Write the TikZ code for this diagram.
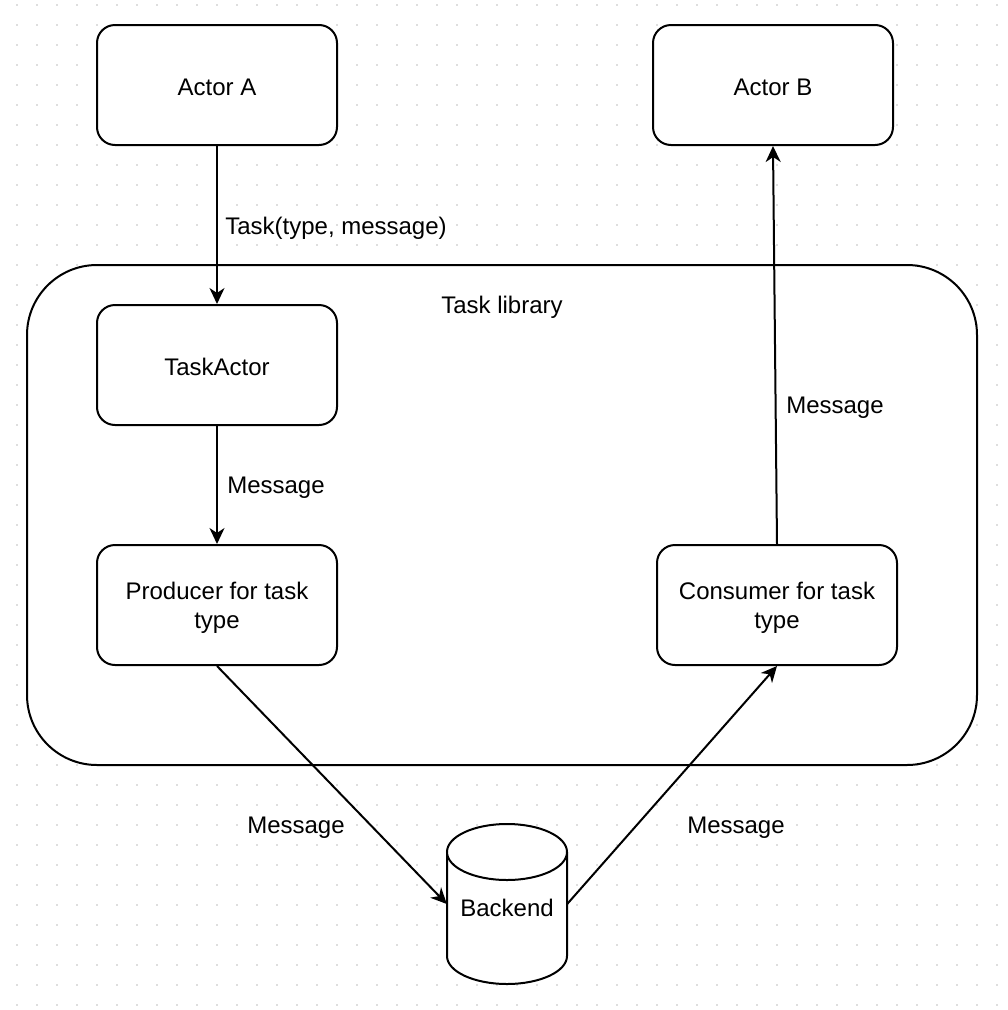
\documentclass[tikz,border=0pt]{standalone}
\usepackage{fontspec}
\setmainfont{Liberation Sans}
\usetikzlibrary{arrows.meta}
\begin{document}
\begin{tikzpicture}[x=1pt,y=-1pt,
  every node/.style={font=\fontsize{24}{29}\selectfont, align=center, inner sep=0pt},
  box/.style={draw=black, line width=2pt, fill=white, rounded corners=18pt,
    minimum width=240pt, minimum height=120pt},
  lbl/.style={fill=none},
  conn/.style={draw=black, line width=2pt, -{Stealth[length=16pt,width=15pt,inset=5pt]}},
  gridc/.style={fill=black!13}]
\useasboundingbox (0,0) rectangle (1008,1010);
\fill[white] (0,0) rectangle (1008,1010);
% grid dots
\foreach \i in {0,...,49} {
  \foreach \j in {0,...,50} {
    \fill[gridc] ({17+20*\i-0.8},{5+20*\j-0.8}) rectangle ++(1.6,1.6);
  }
}
% container
\node[draw=black, line width=2pt, fill=white, rounded corners=70pt,
  minimum width=950pt, minimum height=500pt] (lib) at (502,515) {};
\node[lbl] (libl) at (502,307) {Task library};
% boxes
\node[box] (aa) at (217,85) {};
\node (aat) at (217,87) {Actor A};
\node[box] (ab) at (773,85) {};
\node (abt) at (773,87) {Actor B};
\node[box] (ta) at (217,365) {};
\node (tat) at (217,367) {TaskActor};
\node[box] (prod) at (217,605) {};
\node (prodt) at (217,608) {Producer for task\\type};
\node[box] (cons) at (777,605) {};
\node (const) at (777,608) {Consumer for task\\type};
% backend cylinder
\node[minimum width=120pt, minimum height=160pt] (be) at (507,904) {};
\draw[line width=2pt, fill=white] (447,852) -- (447,956)
  arc[start angle=180, end angle=360, x radius=60pt, y radius=28pt] -- (567,852);
\draw[line width=2pt, fill=white] (507,852) ellipse [x radius=60pt, y radius=28pt];
\node (bel) at (507,908) {Backend};
% connectors
\draw[conn] (aa.south) -- (ta.north);
\draw[conn] (ta.south) -- (prod.north);
\draw[conn] (prod.south) -- (be.west);
\draw[conn] (be.east) -- (cons.south);
\draw[conn] (cons.north) -- (ab.south);
% labels
\node (l1) at (336,228) {Task(type, message)};
\node (l2) at (276,488) {Message};
\node (l3) at (835,408) {Message};
\node (l4) at (296,828) {Message};
\node (l5) at (736,828) {Message};
\end{tikzpicture}
\end{document}
